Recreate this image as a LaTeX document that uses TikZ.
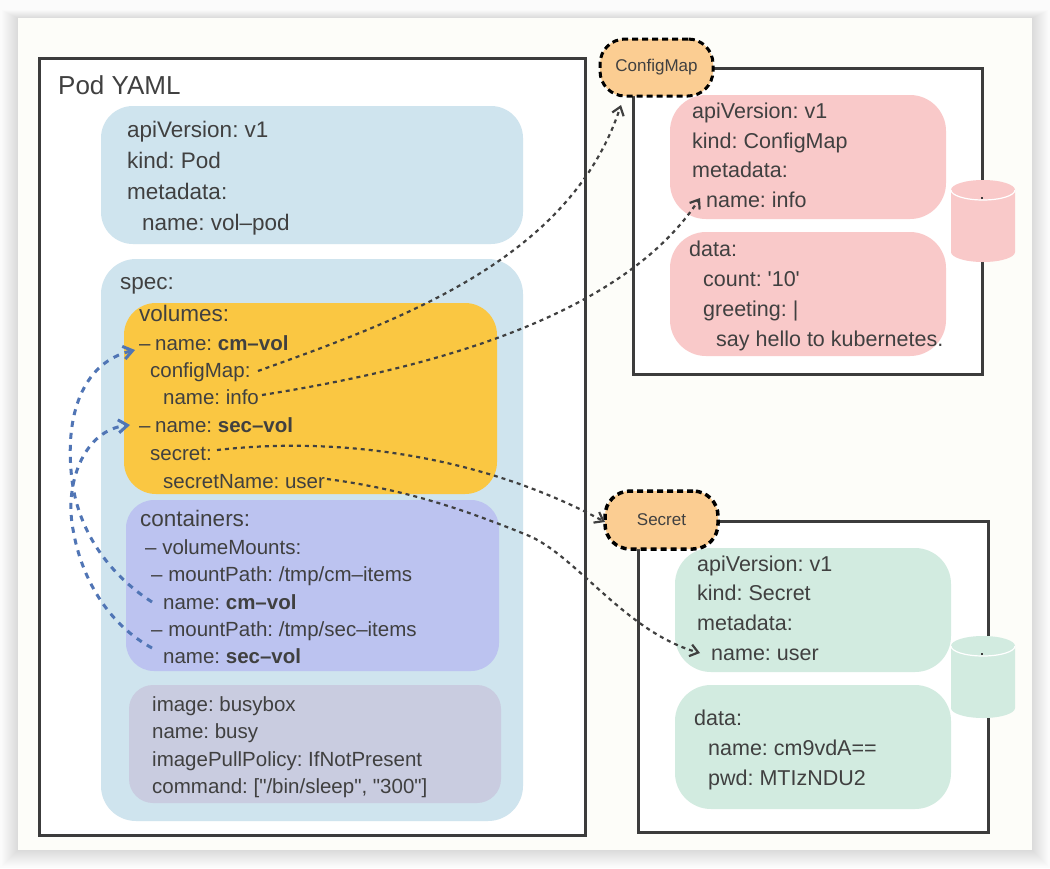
\documentclass[tikz,border=0pt]{standalone}
\usepackage{fontspec}
\setmainfont{Liberation Sans}
\usetikzlibrary{arrows.meta,fit}
\definecolor{ink}{HTML}{404040}
\definecolor{frameC}{HTML}{3C3C3C}
\definecolor{pageC}{HTML}{FBFBFB}
\definecolor{cardC}{HTML}{FDFDF9}
\definecolor{podC}{HTML}{CFE4EE}
\definecolor{volC}{HTML}{FAC742}
\definecolor{conC}{HTML}{BCC3F0}
\definecolor{imgC}{HTML}{C9CCE0}
\definecolor{pinkC}{HTML}{F9C9C9}
\definecolor{greenC}{HTML}{D2EBE0}
\definecolor{tagC}{HTML}{FBCD92}
\definecolor{blueL}{HTML}{5075B5}
\frenchspacing
\newcommand{\cylshape}[3]{%
  \fill[#3] (#1-32,#2) -- (#1-32,#2+62) arc[start angle=180,end angle=360,x radius=32pt,y radius=10pt] -- (#1+32,#2) -- cycle;
  \fill[#3] (#1,#2) ellipse[x radius=32pt,y radius=10pt];
  \draw[white,line width=1.2pt] (#1-32,#2) arc[start angle=180,end angle=360,x radius=32pt,y radius=10pt];
  \draw[frameC,line width=1.6pt] (#1-1,#2+9) -- (#1-1,#2+7.4);
}
\tikzset{
  x=1pt,y=-1pt,
  frameBox/.style={draw=frameC,line width=3pt,fill=white,inner sep=0pt},
  softBox/.style={rounded corners=32pt,inner sep=0pt,fill=#1},
  tagBox/.style={draw=black,fill=tagC,line width=3pt,dash pattern=on 6pt off 4pt,rounded corners=25pt,inner sep=0pt},
  tagText/.style={text=ink,font=\fontsize{17}{20}\selectfont,inner sep=0pt},
  txt/.style={anchor=base west,inner sep=0pt,text=ink,font=\fontsize{20.5}{24}\selectfont},
  big/.style={txt,font=\fontsize{22.5}{26}\selectfont},
  pk/.style={txt,font=\fontsize{21.5}{25}\selectfont},
  link/.style={draw=ink,line width=2.2pt,dash pattern=on 4pt off 4pt,-{Straight Barb[length=8pt,width=12pt,line width=2.2pt]}},
  mount/.style={draw=blueL,line width=3pt,dash pattern=on 6pt off 6pt,-{Straight Barb[length=9pt,width=13pt,line width=3pt]}},
}
\begin{document}
\begin{tikzpicture}
\useasboundingbox (0,0) rectangle (1050,868);
% page and card
\fill[pageC] (0,0) rectangle (1050,868);
\foreach \d in {1,2,...,16}{\fill[black,opacity=0.006] (18-\d,18-\d*0.5) rectangle (1032+\d,850+\d);}
\fill[cardC] (18,18) rectangle (1032,850);

% frames
\node[frameBox,fit={(39,58)(585,835)}] (podFrame) {};
\node[frameBox,fit={(633,68)(982,374)}] (cmFrame) {};
\node[frameBox,fit={(638,521)(988,832)}] (secFrame) {};

% Pod boxes
\node[softBox=podC,fit={(101,106)(523,244)}] (podHead) {};
\node[softBox=podC,rounded corners=35pt,fit={(101,259)(523,821)}] (podSpec) {};
\node[softBox=volC,fit={(124,303)(497,494)}] (volBox) {};
\node[softBox=conC,rounded corners=28pt,fit={(126,500)(499,671)}] (conBox) {};
\node[softBox=imgC,rounded corners=24pt,fit={(129,685)(501,803)}] (imgBox) {};

% ConfigMap boxes
\node[softBox=pinkC,rounded corners=36pt,fit={(670,95)(946,219)}] (cmHead) {};
\node[softBox=pinkC,rounded corners=36pt,fit={(670,232)(946,356)}] (cmData) {};
% Secret boxes
\node[softBox=greenC,rounded corners=36pt,fit={(675,548)(951,672)}] (secHead) {};
\node[softBox=greenC,rounded corners=36pt,fit={(675,685)(951,809)}] (secData) {};

% cylinders
\cylshape{983}{190}{pinkC}
\cylshape{983}{646}{greenC}

% Pod text
\node[txt,font=\fontsize{26}{30}\selectfont] (tPod) at (58,94) {Pod YAML};
\node[big] (t1) at (127,137) {apiVersion: v1};
\node[big] (t2) at (127,168) {kind: Pod};
\node[big] (t3) at (127,199) {metadata:};
\node[big] (t4) at (142,230) {name: vol–pod};
\node[big] (t5) at (120,289) {spec:};
\node[big] (t6) at (139,321) {volumes:};
\node[txt] (v1a) at (139,350) {–};
\node[txt] (v1) at (155,350) {name: \textbf{cm–vol}};
\node[txt] (v2) at (150,377) {configMap:};
\node[txt] (v3) at (163,404) {name: info};
\node[txt] (v4a) at (139,432) {–};
\node[txt] (v4) at (155,432) {name: \textbf{sec–vol}};
\node[txt] (v5) at (150,460) {secret:};
\node[txt] (v6) at (163,488) {secretName: user};
\node[big] (c0) at (140,526) {containers:};
\node[txt] (c1) at (145,554) {– volumeMounts:};
\node[txt] (c2) at (151,581) {– mountPath: /tmp/cm–items};
\node[txt] (c3) at (163,609) {name: \textbf{cm–vol}};
\node[txt] (c4) at (151,636) {– mountPath: /tmp/sec–items};
\node[txt] (c5) at (163,663) {name: \textbf{sec–vol}};
\node[txt] (i1) at (152,711) {image: busybox};
\node[txt] (i2) at (152,738) {name: busy};
\node[txt] (i3) at (152,766) {imagePullPolicy: IfNotPresent};
\node[txt] (i4) at (152,793) {command: [\textquotedbl/bin/sleep\textquotedbl, \textquotedbl300\textquotedbl]};

% ConfigMap text
\node[pk] (p1) at (692,118) {apiVersion: v1};
\node[pk] (p2) at (692,148) {kind: ConfigMap};
\node[pk] (p3) at (692,177) {metadata:};
\node[pk] (p4) at (706,207) {name: info};
\node[pk] (p5) at (689,256) {data:};
\node[pk] (p6) at (703,286) {count: \textquotesingle 10\textquotesingle};
\node[pk] (p7) at (703,316) {greeting: |};
\node[pk] (p8) at (716,346) {say hello to kubernetes.};

% Secret text
\node[pk] (s1) at (697,571) {apiVersion: v1};
\node[pk] (s2) at (697,600) {kind: Secret};
\node[pk] (s3) at (697,630) {metadata:};
\node[pk] (s4) at (711,660) {name: user};
\node[pk] (s5) at (694,725) {data:};
\node[pk] (s6) at (708,755) {name: cm9vdA==};
\node[pk] (s7) at (708,785) {pwd: MTIzNDU2};

% tags
\node[tagBox,fit={(600,39)(713,96)}] (cmTag) {};
\node[tagText] (cmTagText) at (cmTag.center) {ConfigMap};
\node[tagBox,line width=3.5pt,fit={(605,491)(718,549)}] (secTag) {};
\node[tagText] (secTagText) at (secTag.center) {Secret};

% connector ends
\coordinate (a1s) at (258,371);
\coordinate (a1e) at (621,105);
\coordinate (a2s) at (262,395);
\coordinate (a2e) at (700,198);
\coordinate (a3s) at (217,450);
\coordinate (a3e) at (605,522);
\coordinate (a4s) at (327,479);
\coordinate (a4m) at (527,535);
\coordinate (a4e) at (700,653);
\coordinate (b1s) at (152,602);
\coordinate (b1m) at (71,470);
\coordinate (b1e) at (135,350);
\coordinate (b2s) at (152,648);
\coordinate (b2m) at (72,523);
\coordinate (b2e) at (130,425);

\draw[link] (a1s) .. controls (400,320) and (570,260) .. (a1e);
\draw[link] (a2s) .. controls (420,370) and (620,320) .. (a2e);
\draw[link] (a3s) .. controls (350,435) and (490,460) .. (a3e);
\draw[link] (a4s) .. controls (410,490) and (470,512) .. (a4m) .. controls (575,554) and (625,632) .. (a4e);
\draw[mount] (b1s) .. controls (110,575) and (75,530) .. (b1m) .. controls (66,410) and (85,362) .. (b1e);
\draw[mount] (b2s) .. controls (110,625) and (80,580) .. (b2m) .. controls (66,480) and (85,430) .. (b2e);
\end{tikzpicture}
\end{document}
